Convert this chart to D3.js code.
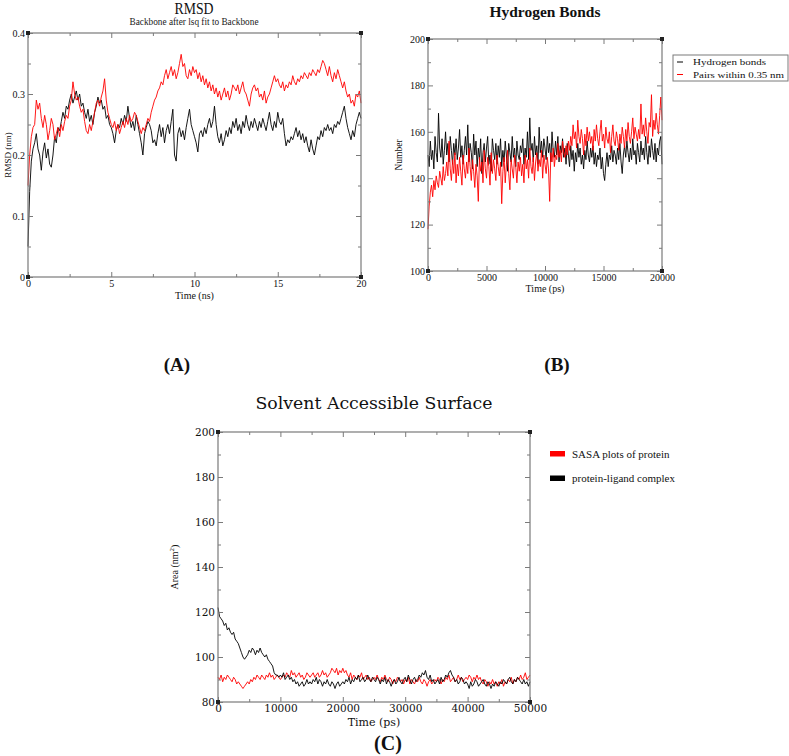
<!DOCTYPE html>
<html>
<head>
<meta charset="utf-8">
<script src="https://cdn.jsdelivr.net/npm/d3@7"></script>
<style>
  html, body { margin: 0; padding: 0; background: #fff; }
  svg { display: block; }
</style>
</head>
<body>
<script>
// ---- data ----

// (A) RMSD, one value every 0.1 ns from 0 to 20 ns
var rmsdStep = 0.1;
var rmsdBlack = [
  0.05,0.14,0.19,0.21,0.22,0.235,0.21,0.2,0.175,0.205,0.22,0.195,0.21,0.185,0.18,0.2,0.23,0.22,0.245,0.24,
  0.255,0.27,0.26,0.28,0.275,0.29,0.3,0.285,0.295,0.305,0.29,0.3,0.28,0.285,0.27,0.26,0.275,0.255,0.265,0.25,
  0.27,0.28,0.295,0.285,0.29,0.275,0.28,0.26,0.265,0.25,0.245,0.235,0.22,0.24,0.25,0.245,0.26,0.25,0.265,0.255,
  0.28,0.26,0.245,0.255,0.24,0.265,0.25,0.235,0.22,0.2,0.235,0.245,0.255,0.25,0.24,0.22,0.225,0.215,0.235,0.25,
  0.23,0.245,0.22,0.24,0.25,0.235,0.255,0.275,0.2,0.19,0.235,0.245,0.23,0.24,0.225,0.245,0.26,0.275,0.25,0.24,
  0.23,0.22,0.205,0.235,0.24,0.23,0.245,0.235,0.25,0.26,0.245,0.255,0.28,0.25,0.23,0.22,0.235,0.215,0.225,0.24,
  0.23,0.245,0.235,0.255,0.245,0.26,0.24,0.25,0.235,0.255,0.245,0.265,0.25,0.24,0.255,0.245,0.26,0.25,0.24,0.255,
  0.245,0.26,0.25,0.24,0.255,0.27,0.25,0.24,0.255,0.245,0.27,0.255,0.25,0.26,0.235,0.215,0.225,0.22,0.23,0.225,
  0.235,0.245,0.23,0.24,0.225,0.235,0.22,0.23,0.215,0.205,0.225,0.21,0.2,0.215,0.23,0.225,0.24,0.23,0.245,0.24,
  0.25,0.24,0.245,0.235,0.25,0.245,0.255,0.25,0.26,0.27,0.28,0.26,0.245,0.235,0.225,0.24,0.23,0.25,0.26,0.27,
  0.26
];
var rmsdRed = [
  0.15,0.2,0.23,0.245,0.25,0.29,0.275,0.285,0.26,0.245,0.265,0.25,0.225,0.24,0.26,0.25,0.225,0.235,0.245,0.23,
  0.25,0.24,0.255,0.265,0.26,0.28,0.29,0.32,0.3,0.29,0.295,0.28,0.27,0.275,0.255,0.24,0.235,0.25,0.24,0.255,
  0.27,0.285,0.29,0.28,0.295,0.305,0.325,0.29,0.27,0.26,0.25,0.245,0.255,0.24,0.25,0.235,0.245,0.255,0.245,0.26,
  0.25,0.265,0.255,0.26,0.27,0.265,0.255,0.245,0.235,0.245,0.24,0.25,0.26,0.255,0.27,0.28,0.29,0.295,0.305,0.31,
  0.32,0.315,0.33,0.34,0.325,0.335,0.345,0.33,0.34,0.325,0.335,0.35,0.365,0.345,0.35,0.33,0.325,0.34,0.33,0.345,
  0.335,0.34,0.325,0.335,0.32,0.33,0.315,0.325,0.31,0.32,0.305,0.315,0.3,0.31,0.295,0.305,0.29,0.3,0.31,0.295,
  0.305,0.29,0.3,0.315,0.31,0.305,0.315,0.3,0.31,0.32,0.305,0.3,0.29,0.28,0.3,0.31,0.315,0.305,0.31,0.295,
  0.3,0.29,0.305,0.285,0.295,0.3,0.31,0.32,0.33,0.32,0.325,0.315,0.31,0.32,0.305,0.315,0.31,0.32,0.315,0.33,
  0.32,0.315,0.325,0.32,0.33,0.325,0.335,0.33,0.325,0.335,0.33,0.34,0.335,0.33,0.34,0.335,0.345,0.355,0.35,0.34,
  0.33,0.345,0.33,0.32,0.335,0.325,0.34,0.33,0.32,0.31,0.32,0.305,0.295,0.3,0.285,0.29,0.28,0.3,0.295,0.305,
  0.285
];

// (B) hydrogen bonds, one value every 100 ps from 0 to 20000 ps
var hbStep = 100;
var hbBonds = [
  150,145,156,148,152,144,158,151,147,168,153,149,157,146,152,160,150,155,147,158,
  152,146,155,150,157,148,153,161,149,154,146,152,158,150,163,147,155,151,144,159,
  150,156,145,153,148,157,142,151,155,147,153,158,146,150,143,157,152,148,155,146,
  154,149,157,145,152,147,156,150,143,155,151,147,158,149,153,145,156,150,148,154,
  151,157,146,153,149,160,148,166,152,155,147,158,150,154,146,162,151,156,149,157,
  153,148,158,151,155,147,160,152,149,156,150,158,147,154,151,157,149,153,146,155,
  150,145,154,148,152,143,151,147,155,149,153,146,150,144,152,148,156,150,147,153,
  149,154,146,151,145,150,148,153,144,149,142,139,146,151,145,150,148,154,147,152,
  150,146,153,148,155,147,142,150,154,149,156,151,147,153,148,157,150,152,146,155,
  151,147,156,150,153,148,158,151,146,154,149,157,152,148,155,147,153,150,156,158,
  146
];
var hbPairs = [
  118,128,134,137,132,139,135,141,138,136,143,140,137,145,139,142,147,141,156,144,
  139,148,142,151,138,146,141,149,143,137,150,144,140,147,142,153,145,139,148,143,
  136,146,141,130,149,143,147,138,152,144,140,149,145,137,151,142,148,144,139,150,
  145,141,147,129,143,149,138,146,152,142,135,148,144,140,150,145,138,147,143,149,
  141,146,138,150,144,148,140,153,145,142,149,139,147,151,143,148,145,152,140,150,
  146,142,149,144,130,151,147,153,145,150,148,155,149,152,147,156,151,149,154,150,
  156,152,158,154,163,157,160,153,165,158,155,161,157,150,159,154,162,156,160,155,
  158,152,161,156,163,157,154,160,165,156,159,153,162,157,155,160,151,158,163,156,
  154,160,157,152,159,155,162,158,153,161,156,164,158,155,160,166,157,162,159,156,
  161,157,172,159,163,158,166,160,155,164,162,176,158,165,161,168,163,159,167,175,
  165
];

// (C) SASA, one value every 250 ps from 0 to 50000 ps
var sasaStep = 250;
var sasaComplex = [
  122,118,117,116,114,115,112,113,111,110,111,108,107,106,104,102,100,99,100,101,
  103,102,104,103,101,103,102,104,102,101,100,101,99,98,97,96,93,92,92,91,
  92,91,93,90,91,92,90,91,89,90,88,89,87,88,89,87,88,90,88,89,
  88,90,89,91,88,90,89,87,89,88,90,88,87,89,88,86,88,89,87,88,
  89,88,90,89,91,88,90,89,91,90,92,89,90,91,89,90,92,90,89,91,
  90,89,91,90,88,90,89,91,88,90,89,87,89,90,88,89,91,89,88,90,
  91,89,92,90,88,90,91,89,90,92,91,93,92,94,91,90,92,89,90,88,
  89,90,88,91,89,90,92,91,93,94,92,91,89,90,88,89,91,90,88,89,
  88,86,89,87,88,90,89,87,88,89,90,88,87,89,88,86,88,87,89,88,
  87,89,88,90,89,88,90,91,89,88,90,89,91,90,89,88,90,88,89,87,
  89
];
var sasaProtein = [
  91,90,92,89,91,90,92,91,90,89,91,90,88,89,88,87,86,87,88,89,
  88,90,89,91,90,92,91,90,92,91,90,92,91,93,91,92,90,91,92,91,
  90,91,92,91,93,92,91,94,92,93,91,92,93,91,92,90,91,93,92,91,
  92,93,91,92,93,91,92,94,92,93,91,92,93,95,94,93,95,92,94,93,
  95,93,94,92,91,93,90,92,91,90,92,91,93,90,91,92,90,91,89,90,
  91,90,92,90,89,91,90,92,90,89,91,90,88,90,89,91,90,89,90,88,
  90,89,91,88,90,89,88,90,89,91,89,88,90,89,87,89,90,88,89,90,
  89,91,90,88,90,89,91,90,92,89,90,91,89,90,92,90,91,89,90,91,
  90,92,91,89,91,90,92,90,91,89,88,90,89,87,89,88,90,88,89,87,
  89,88,90,87,89,88,90,89,91,88,90,89,91,90,92,90,91,93,90,91,
  92
];

// tick values
var rmsdXTicks = [0, 5, 10, 15, 20];
var rmsdYTicks = [0, 0.1, 0.2, 0.3, 0.4];
var hbXTicks = [0, 5000, 10000, 15000, 20000];
var hbYTicks = [100, 120, 140, 160, 180, 200];
var sasaXTicks = [0, 10000, 20000, 30000, 40000, 50000];
var sasaYTicks = [80, 100, 120, 140, 160, 180, 200];

// ---- drawing ----
var W = 789, H = 756;
var serif = "'Liberation Serif', 'Times New Roman', serif";
var wideSerif = "'DejaVu Serif', serif";
var frameColor = "#7a7a7a";

var svg = d3.select("body").append("svg")
  .attr("width", W)
  .attr("height", H);

svg.append("rect").attr("width", W).attr("height", H).attr("fill", "#fff");

function midpoints(ticks) {
  var m = [];
  for (var i = 0; i < ticks.length - 1; i++) m.push((ticks[i] + ticks[i + 1]) / 2);
  return m;
}

function drawPanel(p) {
  var g = svg.append("g");
  var x = d3.scaleLinear().domain(p.xDomain).range([p.left, p.right]);
  var y = d3.scaleLinear().domain(p.yDomain).range([p.bottom, p.top]);

  // series
  var line = function (step) {
    return d3.line()
      .x(function (d, i) { return x(i * step); })
      .y(function (d) { return y(d); });
  };
  p.series.forEach(function (s) {
    g.append("path")
      .datum(s.values)
      .attr("fill", "none")
      .attr("stroke", s.color)
      .attr("stroke-width", 1)
      .attr("stroke-opacity", 0.9)
      .attr("stroke-linejoin", "round")
      .attr("d", line(p.step));
  });

  // inward ticks on all four sides
  function axis(fn, scale, ticks, size, fmt, tx, ty) {
    var a = g.append("g")
      .attr("transform", "translate(" + tx + "," + ty + ")")
      .call(fn(scale).tickValues(ticks).tickSize(size).tickSizeOuter(0)
        .tickPadding(p.tickPad).tickFormat(fmt));
    a.select(".domain").remove();
    a.selectAll("line").attr("stroke", frameColor);
    a.selectAll("text")
      .attr("fill", "#111")
      .attr("font-family", p.font)
      .attr("font-size", p.tickFont);
    return a;
  }
  var none = function () { return ""; };
  var xMinor = midpoints(p.xTicks), yMinor = midpoints(p.yTicks);

  axis(d3.axisBottom, x, p.xTicks, -5, p.xFmt, 0, p.bottom);
  axis(d3.axisBottom, x, xMinor, -3, none, 0, p.bottom);
  axis(d3.axisTop, x, p.xTicks, -5, none, 0, p.top);
  axis(d3.axisTop, x, xMinor, -3, none, 0, p.top);
  axis(d3.axisLeft, y, p.yTicks, -5, p.yFmt, p.left, 0);
  axis(d3.axisLeft, y, yMinor, -3, none, p.left, 0);
  axis(d3.axisRight, y, p.yTicks, -5, none, p.right, 0);
  axis(d3.axisRight, y, yMinor, -3, none, p.right, 0);

  // frame
  g.append("rect")
    .attr("x", p.left).attr("y", p.top)
    .attr("width", p.right - p.left).attr("height", p.bottom - p.top)
    .attr("fill", "none").attr("stroke", frameColor).attr("stroke-width", 1.2);

  // little corner squares (xmgrace handles)
  [[p.left, p.top], [p.right, p.top], [p.left, p.bottom], [p.right, p.bottom]].forEach(function (c) {
    g.append("rect")
      .attr("x", c[0] - 2).attr("y", c[1] - 2)
      .attr("width", 4).attr("height", 4)
      .attr("fill", "#222");
  });

  // axis titles
  g.append("text")
    .attr("x", (p.left + p.right) / 2)
    .attr("y", p.xLabelY)
    .attr("text-anchor", "middle")
    .attr("font-family", p.font)
    .attr("font-size", p.labelFont)
    .attr("fill", "#111")
    .text(p.xLabel);

  var yl = g.append("text")
    .attr("transform", "translate(" + p.yLabelX + "," + (p.top + p.bottom) / 2 + ") rotate(-90)")
    .attr("text-anchor", "middle")
    .attr("font-family", serif)
    .attr("font-size", p.yLabelFont)
    .attr("fill", "#111");
  p.yLabel(yl);

  return { g: g, x: x, y: y };
}

// (A) RMSD
drawPanel({
  left: 28, right: 361, top: 33, bottom: 277,
  xDomain: [0, 20], yDomain: [0, 0.4],
  xTicks: rmsdXTicks, yTicks: rmsdYTicks,
  xFmt: d3.format("d"), yFmt: function (d) { return d === 0 ? "0" : d3.format(".1f")(d); },
  step: rmsdStep,
  font: serif, tickFont: 10, labelFont: 10, tickPad: 3,
  xLabel: "Time (ns)", xLabelY: 299,
  yLabelX: 11, yLabelFont: 9,
  yLabel: function (t) { t.text("RMSD (nm)"); },
  series: [
    { values: rmsdBlack, color: "#000" },
    { values: rmsdRed, color: "#ff0000" }
  ]
});

svg.append("text")
  .attr("x", 194).attr("y", 14)
  .attr("text-anchor", "middle")
  .attr("font-family", serif).attr("font-size", 16)
  .attr("textLength", 39).attr("lengthAdjust", "spacingAndGlyphs")
  .attr("fill", "#111")
  .text("RMSD");
svg.append("text")
  .attr("x", 194).attr("y", 25)
  .attr("text-anchor", "middle")
  .attr("font-family", serif).attr("font-size", 10)
  .attr("textLength", 129).attr("lengthAdjust", "spacingAndGlyphs")
  .attr("fill", "#222")
  .text("Backbone after lsq fit to Backbone");

// (B) Hydrogen bonds
drawPanel({
  left: 428, right: 662, top: 39, bottom: 271,
  xDomain: [0, 20000], yDomain: [100, 200],
  xTicks: hbXTicks, yTicks: hbYTicks,
  xFmt: d3.format("d"), yFmt: d3.format("d"),
  step: hbStep,
  font: serif, tickFont: 10, labelFont: 10, tickPad: 3,
  xLabel: "Time (ps)", xLabelY: 292,
  yLabelX: 402, yLabelFont: 9.5,
  yLabel: function (t) { t.text("Number"); },
  series: [
    { values: hbBonds, color: "#000" },
    { values: hbPairs, color: "#ff0000" }
  ]
});

svg.append("text")
  .attr("x", 545).attr("y", 17)
  .attr("text-anchor", "middle")
  .attr("font-family", serif).attr("font-size", 15).attr("font-weight", "bold")
  .attr("textLength", 111).attr("lengthAdjust", "spacingAndGlyphs")
  .attr("fill", "#111")
  .text("Hydrogen Bonds");

var hbLegend = [
  { label: "Hydrogen bonds", color: "#000", len: 73 },
  { label: "Pairs within 0.35 nm", color: "#ff0000", len: 91 }
];
svg.append("rect")
  .attr("x", 673).attr("y", 55).attr("width", 115).attr("height", 26)
  .attr("fill", "#fff").attr("stroke", frameColor).attr("stroke-width", 1);
hbLegend.forEach(function (e, i) {
  var yy = 62 + i * 12.5;
  svg.append("line")
    .attr("x1", 677).attr("x2", 683).attr("y1", yy).attr("y2", yy)
    .attr("stroke", e.color).attr("stroke-width", 1);
  svg.append("text")
    .attr("x", 693).attr("y", yy + 3)
    .attr("font-family", serif).attr("font-size", 9)
    .attr("textLength", e.len).attr("lengthAdjust", "spacingAndGlyphs")
    .attr("fill", "#111")
    .text(e.label);
});

// (C) Solvent accessible surface
drawPanel({
  left: 218, right: 530, top: 432, bottom: 702,
  xDomain: [0, 50000], yDomain: [80, 200],
  xTicks: sasaXTicks, yTicks: sasaYTicks,
  xFmt: d3.format("d"), yFmt: d3.format("d"),
  step: sasaStep,
  font: wideSerif, tickFont: 10.5, labelFont: 11, tickPad: 3,
  xLabel: "Time (ps)", xLabelY: 726,
  yLabelX: 178, yLabelFont: 10,
  yLabel: function (t) {
    t.append("tspan").text("Area (nm");
    t.append("tspan").attr("dy", -4).attr("font-size", 7).text("2");
    t.append("tspan").attr("dy", 4).text(")");
  },
  series: [
    { values: sasaProtein, color: "#ff0000" },
    { values: sasaComplex, color: "#000" }
  ]
});

svg.append("text")
  .attr("x", 374).attr("y", 409)
  .attr("text-anchor", "middle")
  .attr("font-family", wideSerif).attr("font-size", 16)
  .attr("textLength", 237).attr("lengthAdjust", "spacingAndGlyphs")
  .attr("fill", "#111")
  .text("Solvent Accessible Surface");

var sasaLegend = [
  { label: "SASA plots of protein", color: "#ff0000" },
  { label: "protein-ligand complex", color: "#000" }
];
sasaLegend.forEach(function (e, i) {
  var yy = 453.5 + i * 24.5;
  svg.append("rect")
    .attr("x", 550).attr("y", yy - 2.5).attr("width", 15).attr("height", 5.5)
    .attr("fill", e.color);
  svg.append("text")
    .attr("x", 572).attr("y", yy + 4)
    .attr("font-family", serif).attr("font-size", 11)
    .attr("fill", "#111")
    .text(e.label);
});

// panel letters
var panelLetters = [
  { t: "(A)", x: 177, y: 371, size: 19 },
  { t: "(B)", x: 557, y: 371, size: 19 },
  { t: "(C)", x: 388, y: 750, size: 20 }
];
panelLetters.forEach(function (l) {
  svg.append("text")
    .attr("x", l.x).attr("y", l.y)
    .attr("text-anchor", "middle")
    .attr("font-family", serif).attr("font-size", l.size).attr("font-weight", "bold")
    .attr("fill", "#111")
    .text(l.t);
});
</script>
</body>
</html>
